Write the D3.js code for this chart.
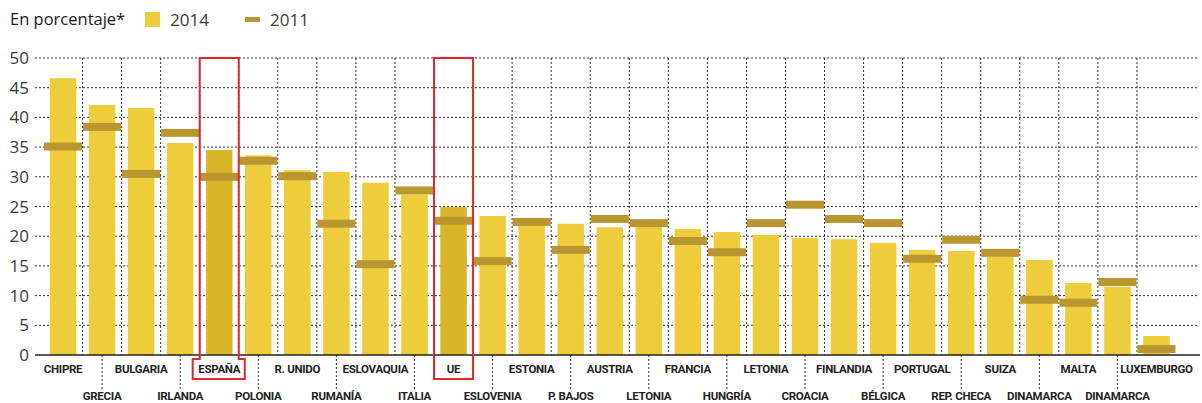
<!DOCTYPE html>
<html>
<head>
<meta charset="utf-8">
<script src="https://cdn.jsdelivr.net/npm/d3@7"></script>
<style>
  body { margin: 0; background: #fff; }
  svg { display: block; }
</style>
</head>
<body>
<div id="chart"></div>
<script>
const countries = ["CHIPRE","GRECIA","BULGARIA","IRLANDA","ESPAÑA","POLONIA","R. UNIDO","RUMANÍA","ESLOVAQUIA","ITALIA","UE","ESLOVENIA","ESTONIA","P. BAJOS","AUSTRIA","LETONIA","FRANCIA","HUNGRÍA","LETONIA","CROACIA","FINLANDIA","BÉLGICA","PORTUGAL","REP. CHECA","SUIZA","DINAMARCA","MALTA","DINAMARCA","LUXEMBURGO"]
const v2014 = [46.6,42.1,41.6,35.7,34.5,33.6,31.1,30.8,29.0,27.0,24.9,23.4,21.8,22.1,21.5,21.6,21.2,20.7,20.2,19.7,19.5,18.9,17.7,17.5,16.5,16.0,12.1,11.5,3.2]
const v2011 = [35.1,38.4,30.5,37.4,30.0,32.7,30.1,22.1,15.3,27.7,22.6,15.8,22.4,17.7,22.9,22.2,19.2,17.3,22.2,25.3,22.9,22.2,16.2,19.4,17.2,9.3,8.8,12.3,1.0]
const yTicks = [0,5,10,15,20,25,30,35,40,45,50]
const highlighted = ["ESPAÑA","UE"]
const legendTitle = "En porcentaje*"
const seriesNames = ["2014","2011"]

const C_2014 = "#eecd3c"
const C_HIGH = "#d9b52a"
const C_2011 = "#b99630"
const C_RED = "#e3262d"

const width = 1202, height = 403
const svg = d3.select("#chart").append("svg").attr("width", width).attr("height", height)

const x = d3.scaleBand().domain(d3.range(countries.length)).range([43.5, 1176])
const y = d3.scaleLinear().domain([0, 50]).range([355, 58])
const step = x.step()
const barW = 26.5

// horizontal grid
svg.append("g").selectAll("line").data(yTicks.filter(d => d > 0)).join("line")
    .attr("x1", 35).attr("x2", 1197)
    .attr("y1", d => y(d)).attr("y2", d => y(d))
    .attr("stroke", "#333").attr("stroke-width", 1).attr("stroke-dasharray", "2,2")

// vertical grid between bands
svg.append("g").selectAll("line").data(d3.range(1, countries.length)).join("line")
    .attr("x1", d => x(d)).attr("x2", d => x(d))
    .attr("y1", y(50)).attr("y2", y(0))
    .attr("stroke", "#333").attr("stroke-width", 1).attr("stroke-dasharray", "2,2")

// separators under axis, at every second category
svg.append("g").selectAll("line").data(d3.range(1, countries.length, 2)).join("line")
    .attr("x1", d => x(d) + step / 2).attr("x2", d => x(d) + step / 2)
    .attr("y1", y(0)).attr("y2", 389)
    .attr("stroke", "#333").attr("stroke-width", 1).attr("stroke-dasharray", "2,2")

// bars 2014
svg.append("g").selectAll("rect").data(v2014).join("rect")
    .attr("x", (d, i) => x(i) + (step - barW) / 2)
    .attr("width", barW)
    .attr("y", d => y(d))
    .attr("height", d => y(0) - y(d))
    .attr("fill", (d, i) => highlighted.includes(countries[i]) ? C_HIGH : C_2014)

// markers 2011
svg.append("g").selectAll("rect").data(v2011).join("rect")
    .attr("x", (d, i) => x(i) + 0.5)
    .attr("width", step - 1)
    .attr("y", d => y(d) - 4)
    .attr("height", 8)
    .attr("fill", C_2011)

// zero line
svg.append("line").attr("x1", 35).attr("x2", 1200).attr("y1", y(0)).attr("y2", y(0))
    .attr("stroke", "#222").attr("stroke-width", 1.5)

// y tick labels
svg.append("g").selectAll("text").data(yTicks).join("text")
    .attr("x", 29).attr("y", d => y(d) + 6)
    .attr("text-anchor", "end")
    .attr("font-family", "'Open Sans', sans-serif").attr("font-size", 17)
    .attr("fill", "#3a3a3a")
    .text(d => d)

// category labels, alternating rows
svg.append("g").selectAll("text").data(countries).join("text")
    .attr("x", (d, i) => x(i) + step / 2)
    .attr("y", (d, i) => i % 2 == 0 ? 373 : 400)
    .attr("text-anchor", "middle")
    .attr("font-family", "'Roboto', sans-serif")
    .attr("font-weight", "bold").attr("font-size", 11.5)
    .attr("letter-spacing", -0.3)
    .attr("fill", "#222")
    .text(d => d)

// red highlight boxes
const iEs = countries.indexOf("ESPAÑA"), iUe = countries.indexOf("UE")
const ex0 = x(iEs), ex1 = x(iEs) + step
svg.append("path")
    .attr("d", `M${ex0},${y(50)}H${ex1}V359H${ex1 + 6}V379H${ex0 - 7}V359H${ex0}Z`)
    .attr("fill", "none").attr("stroke", C_RED).attr("stroke-width", 2)
svg.append("rect")
    .attr("x", x(iUe)).attr("y", y(50)).attr("width", step).attr("height", 379 - y(50))
    .attr("fill", "none").attr("stroke", C_RED).attr("stroke-width", 2)

// legend
svg.append("text").attr("x", 10).attr("y", 25)
    .attr("font-family", "'Open Sans', sans-serif").attr("font-size", 16.5).attr("fill", "#1a1a1a")
    .text(legendTitle)
svg.append("rect").attr("x", 145).attr("y", 12).attr("width", 15).attr("height", 15).attr("fill", C_2014)
svg.append("text").attr("x", 170).attr("y", 26)
    .attr("font-family", "'Open Sans', sans-serif").attr("font-size", 17).attr("fill", "#3a3a3a")
    .text(seriesNames[0])
svg.append("rect").attr("x", 245).attr("y", 17).attr("width", 15).attr("height", 5).attr("fill", C_2011)
svg.append("text").attr("x", 270).attr("y", 26)
    .attr("font-family", "'Open Sans', sans-serif").attr("font-size", 17).attr("fill", "#3a3a3a")
    .text(seriesNames[1])
</script>
</body>
</html>
